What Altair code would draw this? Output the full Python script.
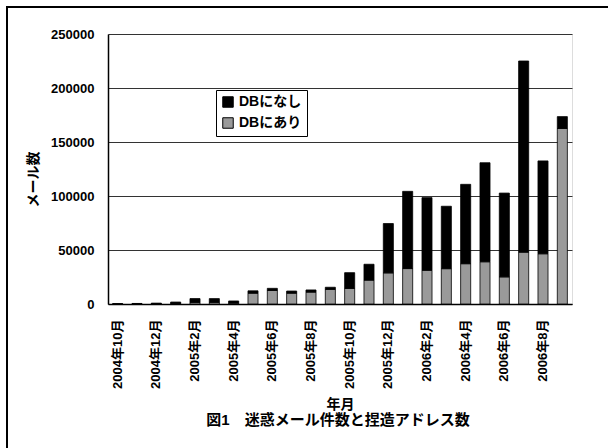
import altair as alt
import pandas as pd

months = [
    "2004年10月", "2004年11月", "2004年12月", "2005年1月", "2005年2月", "2005年3月",
    "2005年4月", "2005年5月", "2005年6月", "2005年7月", "2005年8月", "2005年9月",
    "2005年10月", "2005年11月", "2005年12月", "2006年1月", "2006年2月", "2006年3月",
    "2006年4月", "2006年5月", "2006年6月", "2006年7月", "2006年8月", "2006年9月",
]
totals = [300, 500, 800, 1800, 5000, 5000, 2800, 12200, 14500, 12000, 13000, 15500,
          29000, 36800, 74500, 104300, 98500, 90500, 110800, 130800, 102700, 225000,
          132500, 173500]
db_ari = [100, 200, 300, 500, 1500, 1500, 800, 10000, 12500, 10000, 11000, 13500,
          14400, 22100, 28800, 32800, 31200, 32700, 37300, 39100, 25100, 48000,
          46500, 162500]
series = ["DBになし", "DBにあり"]
y_ticks = [0, 50000, 100000, 150000, 200000, 250000]
caption = "図1　迷惑メール件数と捏造アドレス数"

rows = []
for m, t, a in zip(months, totals, db_ari):
    rows.append({"month": m, "series": "DBにあり", "value": a, "ord": 0})
    rows.append({"month": m, "series": "DBになし", "value": t - a, "ord": 1})
df = pd.DataFrame(rows)

FONT = "Liberation Sans, Noto Sans CJK JP"

bars = alt.Chart(df).mark_bar(stroke="black", strokeWidth=0.8).encode(
    x=alt.X("month:N", sort=months,
            scale=alt.Scale(paddingInner=0.48, paddingOuter=0.24),
            axis=alt.Axis(values=months[::2], labelAngle=-90, labelAlign="right",
                          labelBaseline="middle", labelPadding=15, ticks=False,
                          labelFont=FONT, labelFontSize=13, labelFontWeight="bold",
                          labelColor="black", domainColor="black", domainWidth=1.5,
                          title="年月", titleFont=FONT, titleFontSize=14,
                          titleFontWeight="bold", titleY=100, titleBaseline="middle",
                          titleColor="black", grid=False, labelOverlap=False)),
    y=alt.Y("value:Q", stack="zero",
            scale=alt.Scale(domain=[0, 250000], nice=False),
            axis=alt.Axis(values=y_ticks, format="d", ticks=False, labelPadding=14,
                          labelFont=FONT, labelFontSize=13, labelFontWeight="bold",
                          labelColor="black", domainColor="black", domainWidth=1.5,
                          gridColor="#333", gridWidth=1,
                          title="メール数", titleFont=FONT, titleFontSize=14,
                          titleFontWeight="bold", titleColor="black",
                          titleX=-75, titleY=145, titleAngle=-90,
                          titleBaseline="middle", titleAlign="center")),
    color=alt.Color("series:N", scale=alt.Scale(domain=series, range=["black", "#9a9a9a"]),
                    legend=alt.Legend(title=None, orient="none", legendX=108, legendY=56,
                                      direction="vertical", symbolType="square",
                                      symbolSize=110, symbolStrokeColor="black",
                                      symbolStrokeWidth=1,
                                      labelFont=FONT, labelFontSize=14,
                                      labelFontWeight="bold", labelColor="black",
                                      strokeColor="black", fillColor="white",
                                      padding=5, rowPadding=5, labelOffset=4)),
    order=alt.Order("ord:Q"),
)

caption_text = alt.Chart(pd.DataFrame({"t": [caption]})).mark_text(
    font=FONT, fontSize=15, fontWeight="bold", color="black", align="center",
    baseline="middle").encode(text="t:N", x=alt.value(230), y=alt.value(386))

frame_left = alt.Chart(df).mark_rule(color="black", strokeWidth=1.5).encode(
    x=alt.value(-101), y=alt.value(-28), y2=alt.value(414))
frame_top = alt.Chart(df).mark_rule(color="black", strokeWidth=1.5).encode(
    x=alt.value(-102), x2=alt.value(500), y=alt.value(-27))

chart = alt.layer(bars, caption_text, frame_left, frame_top).properties(
    width=464, height=270,
    padding={"left": 108, "top": 34, "right": 36, "bottom": 144},
    autosize=alt.AutoSizeParams(type="none"),
).configure_view(stroke="#444", strokeDash=[2, 2], strokeWidth=1
).configure(background="white")

chart.save("out.html", embed_options={"renderer": "svg", "actions": False})
